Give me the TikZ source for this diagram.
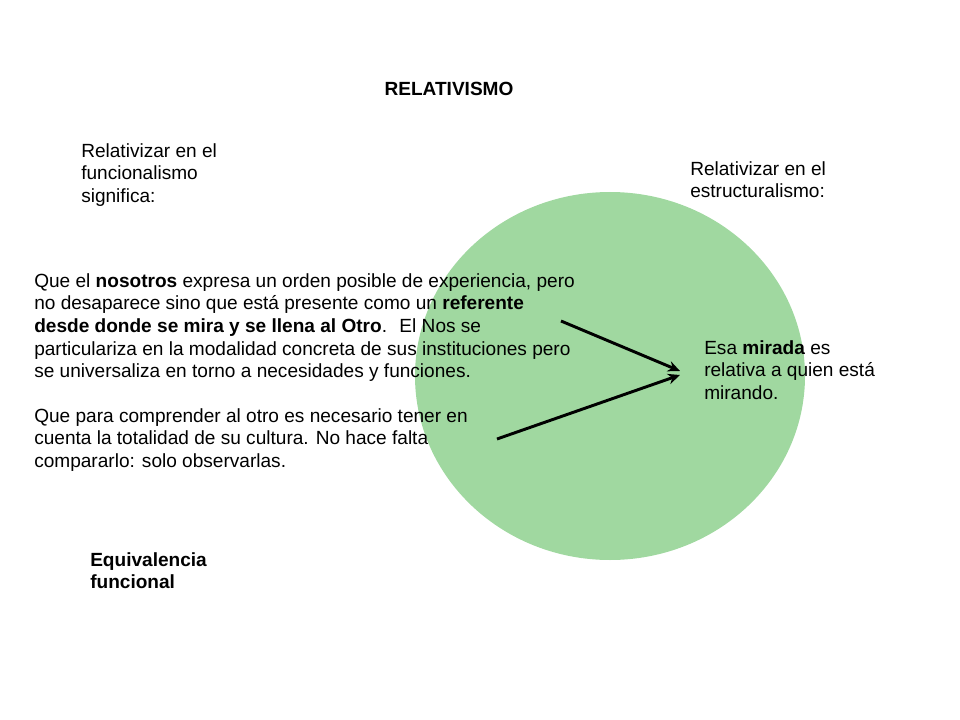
\documentclass[tikz,border=0pt]{standalone}
\usepackage{fontspec}
\usetikzlibrary{arrows.meta}
\setmainfont{Liberation Sans}
\begin{document}
\begin{tikzpicture}[x=0.75pt,y=-0.75pt,
  txt/.style={anchor=north west,align=left,inner sep=0pt,font=\fontsize{14.3}{17}\selectfont},
  arr/.style={-{Stealth[length=9pt,width=8pt]},line width=2.2pt}]
\useasboundingbox (0,0) rectangle (960,720);
\fill[fill={rgb,255:red,160;green,216;blue,160}] (610,376) ellipse [x radius=195,y radius=184];
\node[anchor=center,font=\fontsize{14.3}{17}\selectfont\bfseries] (title) at (449,89) {RELATIVISMO};
\node[txt] (f) at (81,143) {Relativizar en el\\funcionalismo\\significa:};
\node[txt] (e) at (690,161) {Relativizar en el\\estructuralismo:};
\node[txt] (p) at (34,273) {Que el \textbf{nosotros} expresa un orden posible de experiencia, pero\\no desaparece sino que está presente como un \textbf{referente}\\\textbf{desde donde se mira y se llena al Otro}. \ El Nos se\\particulariza en la modalidad concreta de sus instituciones pero\\se universaliza en torno a necesidades y funciones.};
\node[txt] (q) at (34,408) {Que para comprender al otro es necesario tener en\\cuenta la totalidad de su cultura. No hace falta\\compararlo: solo observarlas.};
\node[txt] (m) at (704,340) {Esa \textbf{mirada} es\\relativa a quien está\\mirando.};
\node[txt,font=\fontsize{14.3}{17}\selectfont\bfseries] (eq) at (90,552) {Equivalencia\\funcional};
\coordinate (a1) at (561,321);
\coordinate (a2) at (497,439);
\coordinate (t1) at (680,371);
\coordinate (t2) at (680,375);
\draw[arr] (a1) -- (t1);
\draw[arr] (a2) -- (t2);
\end{tikzpicture}
\end{document}
